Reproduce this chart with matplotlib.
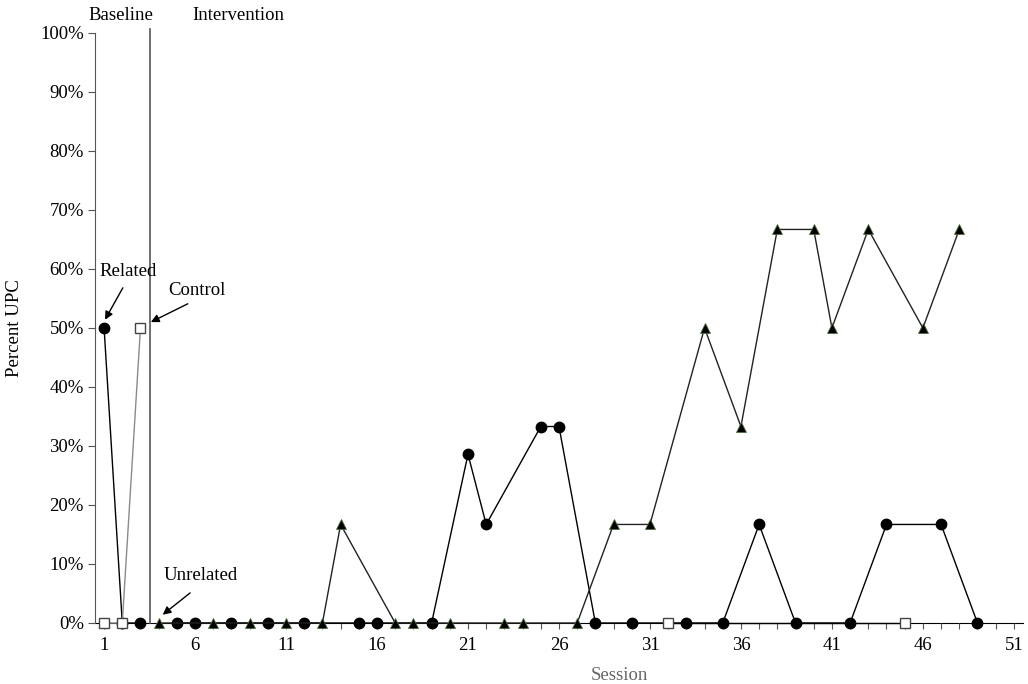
import matplotlib
matplotlib.use('Agg')
import matplotlib.pyplot as plt
from matplotlib.ticker import PercentFormatter, FixedLocator

plt.rcParams['font.family'] = ['Liberation Serif', 'DejaVu Serif']
plt.rcParams['font.size'] = 13.5

# sessions and percent UPC for each item set
related_sessions = [1, 2, 3, 5, 6, 8, 10, 12, 15, 16, 19, 21, 22, 25, 26, 28, 30, 33, 35, 37, 39, 42, 44, 47, 49]
related_values = [50, 0, 0, 0, 0, 0, 0, 0, 0, 0, 0, 28.6, 16.7, 33.3, 33.3, 0, 0, 0, 0, 16.7, 0, 0, 16.7, 16.7, 0]

unrelated_sessions = [4, 7, 9, 11, 13, 14, 17, 18, 20, 23, 24, 27, 29, 31, 34, 36, 38, 40, 41, 43, 46, 48]
unrelated_values = [0, 0, 0, 0, 0, 16.7, 0, 0, 0, 0, 0, 0, 16.7, 16.7, 50, 33.3, 66.7, 66.7, 50, 66.7, 50, 66.7]

control_sessions = [1, 2, 3, 32, 45]
control_values = [0, 0, 50, 0, 0]

phase_change = 3.5
x_labels = list(range(1, 52, 5))


def split_phase(sessions, values):
    base = [(s, v) for s, v in zip(sessions, values) if s < phase_change]
    inter = [(s, v) for s, v in zip(sessions, values) if s > phase_change]
    return base, inter


fig = plt.figure(figsize=(10.28, 6.84), dpi=100)
ax = fig.add_axes([0.0924, 0.0892, 0.9027, 0.8626])

# related (circles)
for part in split_phase(related_sessions, related_values):
    if part:
        xs, ys = zip(*part)
        ax.plot(xs, ys, color='black', lw=1, marker='o', ms=7.5,
                mfc='black', mec='black', zorder=3, clip_on=False)

# unrelated (triangles)
for part in split_phase(unrelated_sessions, unrelated_values):
    if part:
        xs, ys = zip(*part)
        ax.plot(xs, ys, color='#222222', lw=1, marker='^', ms=6.5,
                mfc='black', mec='#4f6b3a', mew=0.6, zorder=3, clip_on=False)

# control (squares)
for i, part in enumerate(split_phase(control_sessions, control_values)):
    if part:
        xs, ys = zip(*part)
        ax.plot(xs, ys, color='#8a8a8a' if i == 0 else 'black', lw=1, marker='s', ms=7.5,
                mfc='white', mec='#444444', mew=1, zorder=4, clip_on=False)

# phase change line
ax.plot([phase_change, phase_change], [0, 100.6], color='#555555', lw=1.2,
        clip_on=False, zorder=2)

ax.set_xlim(0.5, 51.5)
ax.set_ylim(0, 100)
ax.yaxis.set_major_locator(FixedLocator(range(0, 101, 10)))
ax.yaxis.set_major_formatter(PercentFormatter(decimals=0))
ax.xaxis.set_major_locator(FixedLocator(x_labels))
ax.xaxis.set_minor_locator(FixedLocator([s for s in range(1, 52) if s not in x_labels]))
ax.tick_params(axis='x', which='both', direction='out', length=4, width=0.8,
               color='#555555', pad=6)
ax.tick_params(axis='y', direction='out', length=5, width=0.8, color='#555555', pad=3)

for side in ['top', 'right']:
    ax.spines[side].set_visible(False)
ax.spines['left'].set_color('#555555')
ax.spines['bottom'].set_color('black')
ax.spines['bottom'].set_zorder(1)

ax.set_ylabel('Percent UPC', labelpad=12)
ax.set_xlabel('Session', color='#666666', labelpad=4)
ax.xaxis.set_label_coords(0.5655, -0.075)

# phase labels above the plot
trans = matplotlib.transforms.blended_transform_factory(ax.transData, fig.transFigure)
ax.text(1.93, 0.977, 'Baseline', transform=trans, ha='center', va='center')
ax.text(8.4, 0.977, 'Intervention', transform=trans, ha='center', va='center')

arrow = dict(arrowstyle='-|>', color='black', lw=1, mutation_scale=12, shrinkA=0, shrinkB=0)
ax.annotate('', xy=(1.05, 51.4), xytext=(2.03, 56.8), arrowprops=arrow)
ax.text(2.32, 59.5, 'Related', ha='center', va='center')
ax.annotate('', xy=(3.57, 51.0), xytext=(5.6, 54.1), arrowprops=arrow)
ax.text(6.08, 56.4, 'Control', ha='center', va='center')
ax.annotate('', xy=(4.22, 1.4), xytext=(5.73, 5.1), arrowprops=arrow)
ax.text(6.3, 8.0, 'Unrelated', ha='center', va='center')

fig.savefig('out.png', dpi=100)
